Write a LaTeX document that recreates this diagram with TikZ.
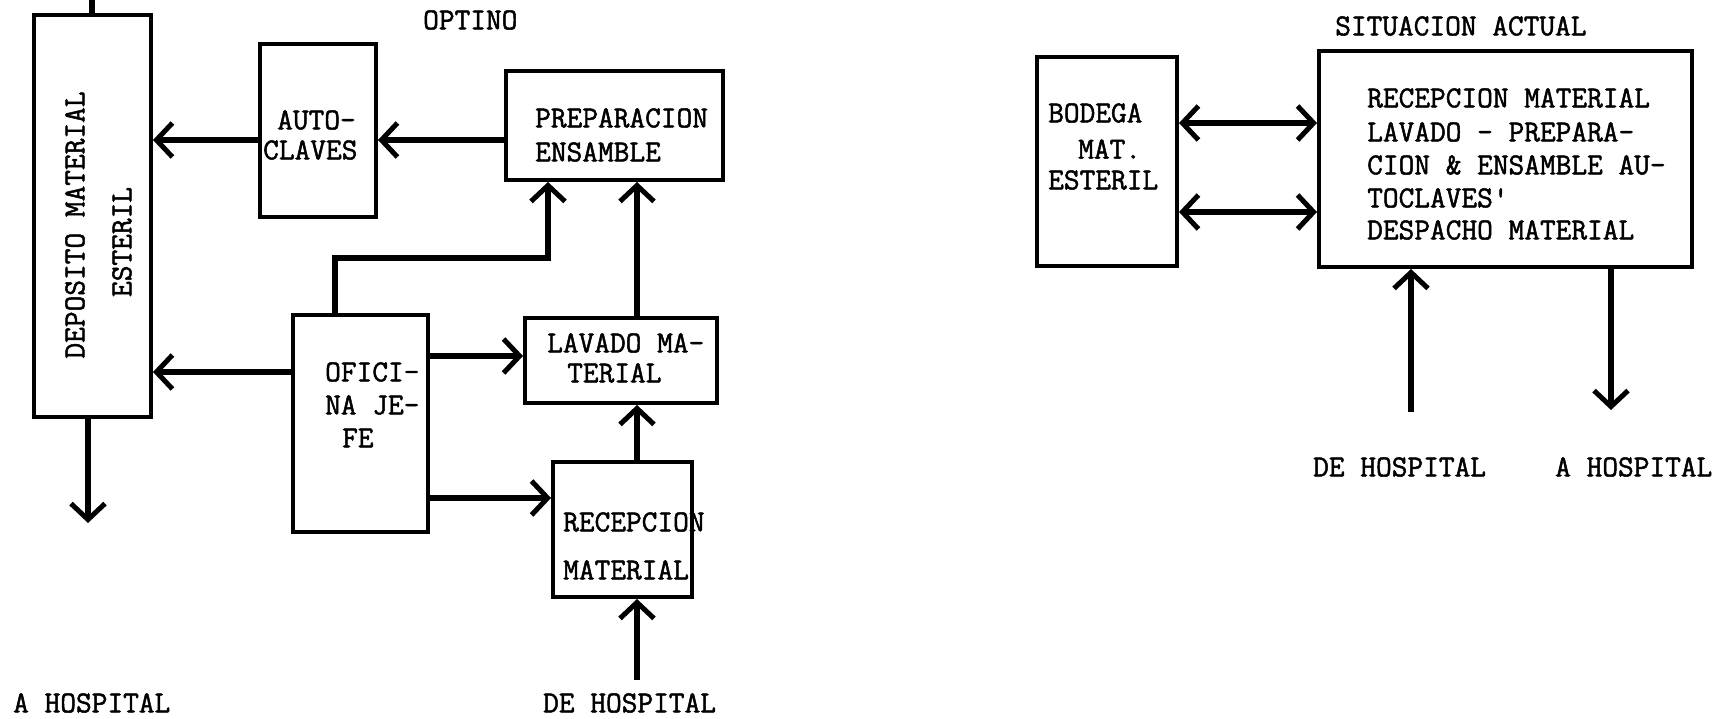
\documentclass[tikz,border=0pt]{standalone}
\usepackage{fontspec}
\newfontfamily\typewriter{Latin Modern Mono}[FakeBold=1.6]
\usetikzlibrary{arrows.meta}
\begin{document}
\begin{tikzpicture}[x=1pt,y=-1pt,
  box/.style={draw, line width=4pt, inner sep=0pt},
  txt/.style={anchor=west, inner sep=0pt, font=\typewriter\fontsize{30.5}{32}\selectfont},
  rtxt/.style={txt, anchor=center, rotate=90},
  barb/.tip={Straight Barb[length=16pt,width=34pt,line width=5pt]},
  flow/.style={line width=5.5pt, -barb},
  both/.style={line width=5.5pt, barb-barb},
  wire/.style={line width=5.5pt}]
\useasboundingbox (0,0) rectangle (1720,719);

% ---------- OPTINO ----------
\node[txt] (tOpt) at (423,20) {OPTINO};

\node[box, minimum width=117pt, minimum height=402pt] (dep) at (92.5,216) {};
\node[rtxt] (tDep1) at (75,225) {DEPOSITO MATERIAL};
\node[rtxt] (tDep2) at (122,242) {ESTERIL};

\node[box, minimum width=116pt, minimum height=173pt] (auto) at (318,130.5) {};
\node[txt] (tAut1) at (277,120) {AUTO-};
\node[txt] (tAut2) at (263,150) {CLAVES};

\node[box, minimum width=217pt, minimum height=109pt] (prep) at (614.5,125.5) {};
\node[txt] (tPre1) at (535,118) {PREPARACION};
\node[txt] (tPre2) at (535,152) {ENSAMBLE};

\node[box, minimum width=135pt, minimum height=217pt] (ofi) at (360.5,423.5) {};
\node[txt] (tOfi1) at (325,372) {OFICI-};
\node[txt] (tOfi2) at (325,405) {NA JE-};
\node[txt] (tOfi3) at (342,438) {FE};

\node[box, minimum width=192pt, minimum height=85pt] (lava) at (621,360.5) {};
\node[txt] (tLav1) at (547,343) {LAVADO MA-};
\node[txt] (tLav2) at (567,373) {TERIAL};

\node[box, minimum width=139pt, minimum height=135pt] (recep) at (622.5,529.5) {};
\node[txt] (tRec1) at (563,522) {RECEPCION};
\node[txt] (tRec2) at (563,570) {MATERIAL};

\node[txt] (tAHosL) at (13,703) {A HOSPITAL};
\node[txt] (tDeHosL) at (543,703) {DE HOSPITAL};

\coordinate (topL) at (92,0);
\coordinate (outL) at (88,523);
\coordinate (inL) at (637,680);
\coordinate (bendA) at (335,258);
\coordinate (bendB) at (548,258);

\draw[wire] (92,0 |- dep.north) -- (topL);
\draw[flow] (88,0 |- dep.south) -- (outL);
\draw[flow] (prep.west |- 0,140) -- (auto.east |- 0,140);
\draw[flow] (auto.west |- 0,140) -- (dep.east |- 0,140);
\draw[flow] (ofi.west |- 0,372) -- (dep.east |- 0,372);
\draw[flow] (ofi.east |- 0,356) -- (lava.west |- 0,356);
\draw[flow] (ofi.east |- 0,498) -- (recep.west |- 0,498);
\draw[flow] (bendA |- ofi.north) -- (bendA) -- (bendB) -- (bendB |- prep.south);
\draw[flow] (637,0 |- lava.north) -- (637,0 |- prep.south);
\draw[flow] (637,0 |- recep.north) -- (637,0 |- lava.south);
\draw[flow] (inL) -- (inL |- recep.south);

% ---------- SITUACION ACTUAL ----------
\node[txt] (tSit) at (1335,26) {SITUACION ACTUAL};

\node[box, minimum width=140pt, minimum height=209pt] (bod) at (1107,161.5) {};
\node[txt] (tBod1) at (1048,113) {BODEGA};
\node[txt] (tBod2) at (1078,149) {MAT.};
\node[txt] (tBod3) at (1048,180) {ESTERIL};

\node[box, minimum width=373pt, minimum height=216pt] (big) at (1505.5,159) {};
\node[txt] (tBig1) at (1367,98) {RECEPCION MATERIAL};
\node[txt] (tBig2) at (1367,132) {LAVADO - PREPARA-};
\node[txt] (tBig3) at (1367,165) {CION \& ENSAMBLE AU-};
\node[txt] (tBig4) at (1367,198) {TOCLAVES'};
\node[txt] (tBig5) at (1367,230) {DESPACHO MATERIAL};

\node[txt] (tDeHosR) at (1313,467) {DE HOSPITAL};
\node[txt] (tAHosR) at (1555,467) {A HOSPITAL};

\coordinate (inR) at (1411,412);
\coordinate (outR) at (1611,410);

\draw[both] (bod.east |- 0,123) -- (big.west |- 0,123);
\draw[both] (bod.east |- 0,212) -- (big.west |- 0,212);
\draw[flow] (inR) -- (inR |- big.south);
\draw[flow] (outR |- big.south) -- (outR);
\end{tikzpicture}
\end{document}
